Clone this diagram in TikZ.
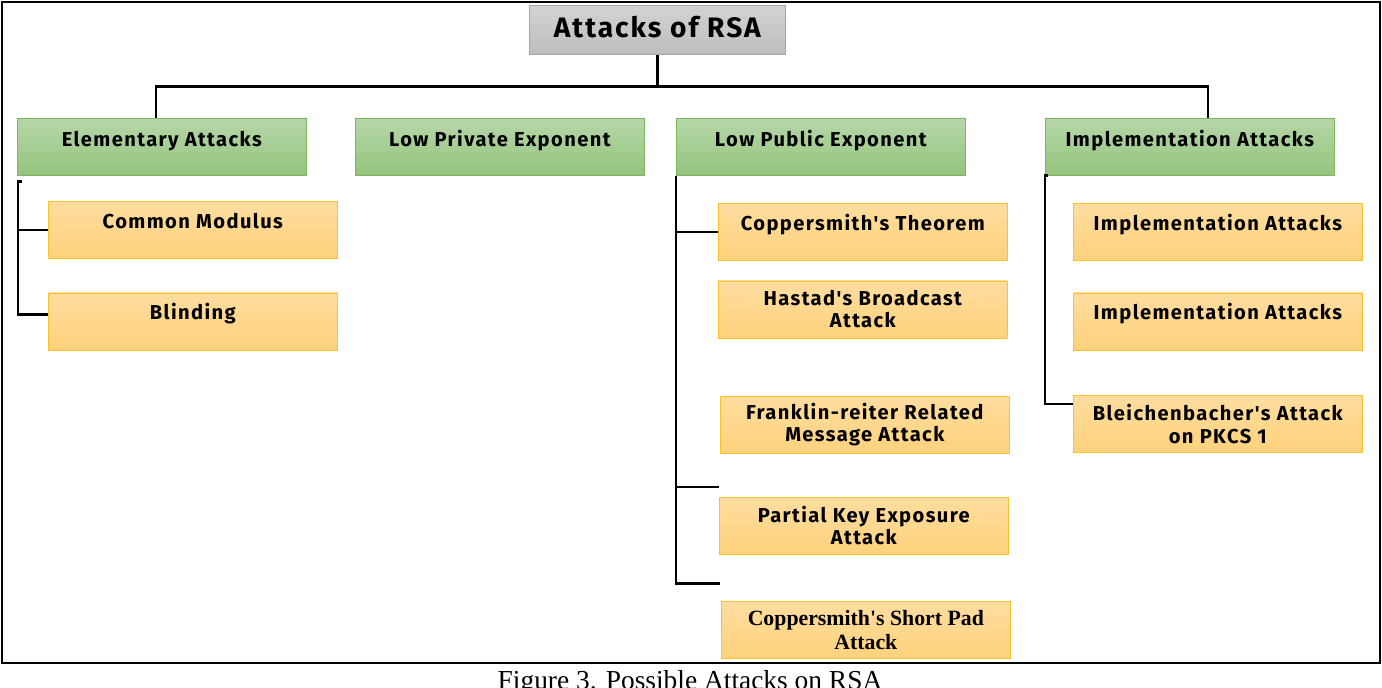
\documentclass[tikz,border=0pt]{standalone}
\usepackage{fontspec}
\setmainfont{Liberation Serif}
\newfontfamily\handfont[LetterSpace=7]{Fira Sans}
\usepackage{xcolor}
\definecolor{rootTop}{HTML}{D2D2D2}
\definecolor{rootBot}{HTML}{BEBEBE}
\definecolor{rootEdge}{HTML}{A6A6A6}
\definecolor{groupTop}{HTML}{B6D7A8}
\definecolor{groupBot}{HTML}{95C47E}
\definecolor{groupEdge}{HTML}{7DB65F}
\definecolor{leafTop}{HTML}{FFDDA0}
\definecolor{leafBot}{HTML}{FED27C}
\definecolor{leafEdge}{HTML}{FCC22E}
\usetikzlibrary{positioning, calc}

\begin{document}
\begin{tikzpicture}[x=0.025cm, y=-0.025cm,
  link/.style={line width=1.7pt, black},
  rootbox/.style={draw=rootEdge, top color=rootTop, bottom color=rootBot,
    minimum width=6.4cm, inner ysep=0pt, text height=0.8cm, text depth=0.425cm,
    font=\handfont\bfseries\fontsize{20pt}{23pt}\selectfont},
  groupbox/.style={draw=groupEdge, top color=groupTop, bottom color=groupBot,
    minimum width=7.225cm, inner ysep=0pt, text height=0.7cm, text depth=0.725cm,
    font=\handfont\bfseries\fontsize{14.3pt}{15.8pt}\selectfont},
  leafbox/.style={draw=leafEdge, top color=leafTop, bottom color=leafBot,
    minimum width=7.225cm, minimum height=1.425cm, inner ysep=0pt, align=center,
    font=\handfont\bfseries\fontsize{14.3pt}{15.8pt}\selectfont},
  oneline/.style={text height=0.675cm, text depth=0.75cm}]

  \useasboundingbox (0,0) rectangle (1382,688);
  \draw[line width=1.4pt] (2,2) rectangle (1380,663);

  \node[rootbox, anchor=north west] (root) at (529,5) {Attacks of RSA};

  \node[groupbox, anchor=north west] (elem)  at (17,118)   {Elementary Attacks};
  \node[groupbox, anchor=north west] (lpriv) at (355,118)  {Low Private Exponent};
  \node[groupbox, anchor=north west] (lpub)  at (676,118)  {Low Public Exponent};
  \node[groupbox, anchor=north west] (impl)  at (1045,118) {Implementation Attacks};

  \node[leafbox, oneline, anchor=north west] (common) at (48,201) {Common Modulus};
  \node[leafbox, oneline, below=0.85cm of common] (blind) {Blinding};

  \node[leafbox, oneline, anchor=north west] (copper) at (718,203) {Coppersmith's Theorem};
  \node[leafbox, below=0.5cm of copper] (hastad) {Hastad's Broadcast\\Attack};
  \node[leafbox, below=1.45cm of hastad, xshift=0.05cm] (frank) {Franklin-reiter Related\\Message Attack};
  \node[leafbox, below=1.075cm of frank, xshift=-0.025cm] (partial) {Partial Key Exposure\\Attack};
  \node[leafbox, below=1.175cm of partial, xshift=0.05cm,
        font=\rmfamily\bfseries\fontsize{15.5pt}{16.5pt}\selectfont] (shortpad)
        {Coppersmith\textquotesingle s Short Pad\\Attack};

  \node[leafbox, oneline, anchor=north west] (impa) at (1073,203) {Implementation Attacks};
  \node[leafbox, oneline, below=0.8cm of impa] (impb) {Implementation Attacks};
  \node[leafbox, below=1.125cm of impb] (bleich) {Bleichenbacher's Attack\\on PKCS 1};

  \node[anchor=base, font=\fontsize{19.5pt}{21pt}\selectfont] (caption) at (690,689)
    {Figure 3. Possible Attacks on RSA};

  \coordinate (hub) at ($(root.south)+(0,32)$);
  \coordinate (pendA) at ($(partial.north west)+(0,-10)$);
  \coordinate (pendB) at ($(shortpad.north west)+(-1,-18)$);

  \draw[link] (root.south) -- (hub);
  \draw[link] ($(elem.north)+(-6,0)$) |- (hub) -| ($(impl.north)+(18,0)$);
  \draw[link] ($(lpriv.north)+(7,0)$) -- ($(lpriv.north)+(7,0)$ |- hub);
  \draw[link] ($(lpub.north)+(-6,0)$) -- ($(lpub.north)+(-6,0)$ |- hub);

  \draw[link] ($(elem.south west)+(5,6)$) -| ($(blind.west)+(-30,-7)$) -- ($(blind.west)+(0,-7)$);
  \draw[link] (common.west) -- ++(-30,0);

  \draw[link] (lpub.south west) -- (lpub.south west |- pendB) -- (pendB);
  \draw[link] (copper.west) -- (copper.west -| lpub.south west);
  \draw[link] ($(hastad.west)+(0,-2)$) -- ($(hastad.west)+(0,-2)$ -| lpub.south west);
  \draw[link] ($(frank.north west)+(0,4)$) -- ($(frank.north west)+(0,4)$ -| lpub.south west);
  \draw[link] (pendA) -- (pendA -| lpub.south west);

  \draw[link] ($(impl.south west)+(3,0)$) -| ($(bleich.north west)+(-28,9)$) -- ($(bleich.north west)+(0,9)$);
  \draw[link] ($(impa.west)+(0,-2)$) -- ($(impa.west)+(0,-2)$ -| impl.south west);
  \draw[link] ($(impb.west)+(0,-11)$) -- ($(impb.west)+(0,-11)$ -| impl.south west);

\end{tikzpicture}
\end{document}
